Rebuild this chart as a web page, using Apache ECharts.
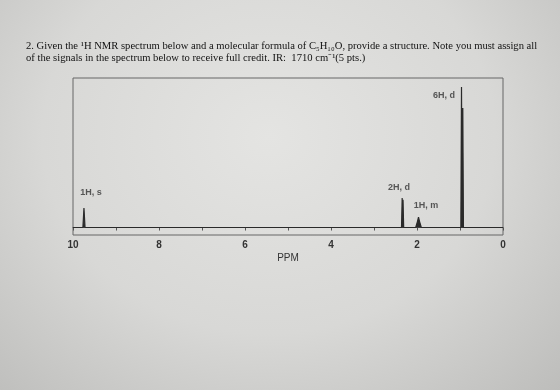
<!DOCTYPE html>
<html>
<head>
<meta charset="utf-8">
<script src="https://cdn.jsdelivr.net/npm/echarts@6/dist/echarts.min.js"></script>
<style>
  html, body { margin: 0; padding: 0; }
  body {
    width: 560px; height: 390px; overflow: hidden;
    background: radial-gradient(ellipse at 48% 35%, #e4e4e2 0%, #d8d8d6 55%, #bdbdbb 100%);
  }
  #chart { width: 560px; height: 390px; }
</style>
</head>
<body>
<div id="chart"></div>
<script>
// spectrum trace: [ppm, intensity]
var spectrum = [
  [10, 0], [9.77, 0], [9.745, 13], [9.72, 0],
  [2.36, 0], [2.345, 19.7], [2.335, 0], [2.325, 18.5], [2.31, 0],
  [2.03, 0], [1.99, 4], [1.965, 7], [1.94, 4], [1.90, 0],
  [0.98, 0], [0.965, 94], [0.95, 0], [0.935, 80], [0.92, 0],
  [0.62, 0], [0.6, 1], [0.58, 0], [0, 0]
];
// peak annotations
var peakLabels = ['1H, s', '2H, d', '1H, m', '6H, d'];
var labelPpm = [9.58, 2.42, 1.79, 1.37];
var labelHeight = [23.7, 27, 14.4, 88.6];
var ppmTicks = [10, 8, 6, 4, 2, 0];

var chart = echarts.init(document.getElementById('chart'));
chart.setOption({
  backgroundColor: 'transparent',
  animation: false,
  title: {
    text: '2. Given the \u00B9H NMR spectrum below and a molecular formula of C\u2085H\u2081\u2080O, provide a structure. Note you must assign all\nof the signals in the spectrum below to receive full credit. IR:  1710 cm\u207B\u00B9(5 pts.)',
    left: 21,
    top: 35,
    textStyle: {
      fontFamily: 'Liberation Serif',
      fontSize: 10.6,
      fontWeight: 'normal',
      color: '#111',
      lineHeight: 12
    }
  },
  grid: {
    left: 73,
    right: 57,
    top: 78,
    bottom: 155,
    show: true,
    borderColor: '#666',
    borderWidth: 1
  },
  xAxis: {
    type: 'value',
    inverse: true,
    min: 0,
    max: 10,
    interval: 1,
    name: 'PPM',
    nameLocation: 'middle',
    nameGap: 18,
    nameTextStyle: { fontFamily: 'Liberation Sans', fontSize: 10, color: '#333' },
    axisLine: { lineStyle: { color: '#555', width: 1 } },
    axisTick: { length: 3, lineStyle: { color: '#555' } },
    splitLine: { show: false },
    axisLabel: {
      fontFamily: 'Liberation Sans',
      fontSize: 10,
      fontWeight: 'bold',
      color: '#333',
      margin: 5,
      formatter: function (v) { return ppmTicks.indexOf(v) >= 0 ? v : ''; }
    }
  },
  yAxis: {
    type: 'value',
    min: -5,
    max: 100,
    show: false
  },
  series: [
    {
      type: 'line',
      data: spectrum,
      symbol: 'none',
      lineStyle: { color: '#2a2a2a', width: 1.2 },
      areaStyle: { color: '#2a2a2a', opacity: 1 },
      silent: true
    },
    {
      type: 'scatter',
      symbolSize: 0,
      silent: true,
      data: peakLabels.map(function (t, i) { return { value: [labelPpm[i], labelHeight[i]], name: t }; }),
      label: {
        show: true,
        position: 'inside',
        formatter: '{b}',
        fontFamily: 'Liberation Sans',
        fontSize: 9,
        fontWeight: 'bold',
        color: '#333'
      }
    }
  ]
});
</script>
</body>
</html>
